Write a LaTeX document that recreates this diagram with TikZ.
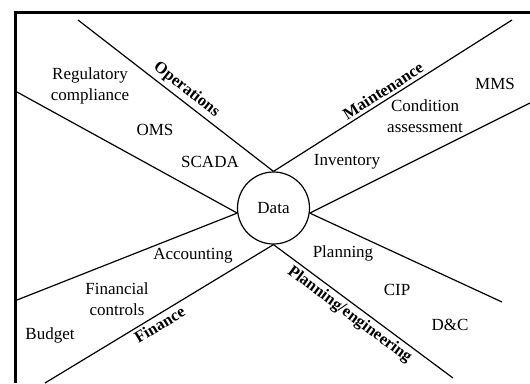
\documentclass[tikz,border=0pt]{standalone}
\usepackage{fontspec}
\setmainfont{Liberation Serif}
\usetikzlibrary{positioning}
\begin{document}
\begin{tikzpicture}[
    x=1pt, y=-1pt,
    spoke/.style={line width=1.2pt},
    hub/.style={circle, draw, line width=1.2pt, minimum size=72pt, inner sep=0pt, font=\fontsize{17}{20}\selectfont},
    item/.style={align=center, font=\fontsize{17}{21}\selectfont},
    area/.style={font=\bfseries\fontsize{16.5}{19}\selectfont, inner sep=3pt}
]
\useasboundingbox (0,0) rectangle (530,383);

% Frame
\draw[line width=3pt] (15,383) -- (15,12) -- (530,12);

% Hub
\node[hub] (data) at (273.5,208) {Data};

% Outer ends of the spokes
\coordinate (opsend) at (78,20);
\coordinate (maintend) at (512,20);
\coordinate (regend) at (17,92);
\coordinate (accend) at (17,300);
\coordinate (mmsend) at (530,103);
\coordinate (planend) at (502,302);
\coordinate (finend) at (45,383);
\coordinate (engend) at (453,378);

% Spokes
\draw[spoke] (opsend) -- (data.north) node[area, pos=0.52, sloped, above] {Operations};
\draw[spoke] (data.north) -- (maintend) node[area, pos=0.48, sloped, above] {Maintenance};
\draw[spoke] (regend) -- (data.188);
\draw[spoke] (accend) -- (data.188);
\draw[spoke] (data.352) -- (mmsend);
\draw[spoke] (data.352) -- (planend);
\draw[spoke] (finend) -- (data.south) node[area, pos=0.48, sloped, below] {Finance};
\draw[spoke] (data.south) -- (engend) node[area, pos=0.46, sloped, below] {Planning/engineering};

% Operations
\node[item] (reg) at (90,86) {Regulatory\\compliance};
\node[item] (oms) at (155,130) {OMS};
\node[item] (scada) at (210,162) {SCADA};

% Maintenance
\node[item] (mms) at (495,84) {MMS};
\node[item] (cond) at (425,116) {Condition\\assessment};
\node[item] (inv) at (347,162) {Inventory};

% Finance
\node[item] (acc) at (193,256) {Accounting};
\node[item] (fincon) at (117,299) {Financial\\controls};
\node[item] (budget) at (50,335) {Budget};

% Planning/engineering
\node[item] (plan) at (343,253) {Planning};
\node[item] (cip) at (397,290) {CIP};
\node[item] (dc) at (450,325) {D\&C};

\end{tikzpicture}
\end{document}
